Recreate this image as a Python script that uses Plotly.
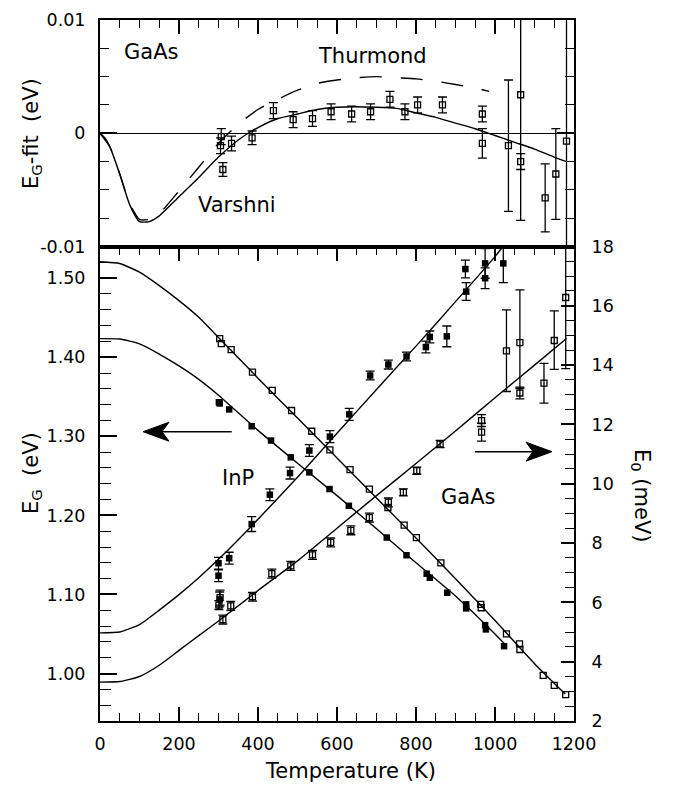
import plotly.graph_objects as go

FONT = "DejaVu Sans"

# ---------------- Top panel: E_G - fit (eV) for GaAs ----------------
T_varshni = [0, 12, 25, 50, 75, 100, 125, 150, 200, 250, 300, 350, 375, 400, 450, 500, 550, 600, 700, 750, 800, 850, 900, 950, 1000, 1050, 1100, 1150, 1181]
dE_varshni = [0.0, -0.0004, -0.0012, -0.0036, -0.0063, -0.0078, -0.0078, -0.0073, -0.0056, -0.0039, -0.0021, -0.0006, 0.0, 0.0005, 0.0013, 0.0017, 0.0021, 0.0023, 0.0023, 0.0022, 0.0018, 0.0014, 0.0009, 0.0004, -0.0002, -0.0008, -0.0014, -0.0021, -0.0025]

T_thurmond = [0, 25, 50, 75, 100, 125, 150, 200, 250, 300, 350, 400, 450, 500, 550, 600, 650, 700, 750, 800, 850, 900, 950, 985]
dE_thurmond = [0.0, -0.0012, -0.0036, -0.0062, -0.0076, -0.0076, -0.0071, -0.0051, -0.0030, -0.0009, 0.0008, 0.0021, 0.0030, 0.0038, 0.0044, 0.0047, 0.0049, 0.0050, 0.0049, 0.0048, 0.0046, 0.0043, 0.0040, 0.0037]

T_resid = [307, 305, 311, 333, 385, 439, 489, 538, 585, 637, 685, 734, 772, 804, 867, 968, 968, 1034, 1065, 1065, 1127, 1154, 1181]
dE_resid = [-0.0003, -0.0011, -0.0032, -0.0009, -0.0004, 0.0020, 0.0012, 0.0013, 0.0019, 0.0017, 0.0019, 0.0030, 0.0019, 0.0025, 0.0025, 0.0017, -0.0009, -0.0011, 0.0034, -0.0025, -0.0057, -0.0036, -0.0007]
err_resid = [0.0007, 0.0007, 0.0006, 0.00065, 0.0006, 0.0007, 0.0007, 0.0007, 0.0007, 0.0007, 0.0007, 0.0007, 0.0007, 0.0007, 0.0007, 0.0007, 0.0013, 0.0058, 0.0111, 0.0007, 0.0030, 0.0040, 0.0120]

# ---------------- Bottom panel: E_G (eV) ----------------
T_gaas_eg_fit = [0, 50, 100, 150, 200, 250, 300, 400, 500, 600, 700, 800, 900, 1000, 1100, 1178]
E_gaas_eg_fit = [1.5207, 1.5185, 1.5075, 1.4905, 1.4715, 1.4505, 1.4250, 1.3735, 1.3230, 1.2725, 1.2220, 1.1715, 1.1200, 1.0670, 1.0125, 0.9740]

T_inp_eg_fit = [0, 50, 100, 150, 200, 250, 300, 400, 500, 600, 700, 800, 900, 1000, 1025]
E_inp_eg_fit = [1.4235, 1.4230, 1.4168, 1.4040, 1.3890, 1.3720, 1.3520, 1.3075, 1.2660, 1.2250, 1.1830, 1.1400, 1.0980, 1.0500, 1.0370]

T_gaas_eg = [303, 307, 332, 386, 436, 485, 536, 582, 633, 682, 729, 770, 801, 863, 964, 965, 1029, 1062, 1063, 1122, 1150, 1179]
E_gaas_eg = [1.4235, 1.4172, 1.4096, 1.3812, 1.3580, 1.3326, 1.3064, 1.2828, 1.2578, 1.2333, 1.2100, 1.1877, 1.1720, 1.1400, 1.0875, 1.0832, 1.0502, 1.0376, 1.0304, 0.9978, 0.9850, 0.9734]

T_inp_eg = [301, 303, 327, 384, 433, 483, 530, 581, 630, 726, 776, 827, 835, 879, 927, 927, 975, 977, 1023]
E_inp_eg = [1.3430, 1.3415, 1.3340, 1.3127, 1.2946, 1.2734, 1.2544, 1.2333, 1.2121, 1.1720, 1.1496, 1.1263, 1.1212, 1.1022, 1.0875, 1.0824, 1.0612, 1.0558, 1.0346]

# ---------------- Bottom panel: E_0 (meV), right axis ----------------
T_inp_e0_fit = [0, 50, 100, 150, 200, 250, 300, 400, 500, 600, 700, 800, 900, 1000, 1020]
E0_inp_fit = [4.97, 5.00, 5.25, 5.74, 6.26, 6.83, 7.45, 8.80, 10.22, 11.70, 13.18, 14.64, 16.14, 17.66, 18.0]

T_gaas_e0_fit = [0, 50, 100, 150, 200, 250, 300, 400, 500, 600, 700, 800, 900, 1000, 1100, 1181]
E0_gaas_fit = [3.31, 3.33, 3.50, 3.88, 4.38, 4.88, 5.37, 6.40, 7.40, 8.50, 9.60, 10.68, 11.78, 12.90, 14.00, 14.90]

T_inp_e0 = [300, 300, 303, 327, 384, 430, 481, 530, 582, 631, 684, 730, 776, 825, 835, 878, 927, 925, 975, 975, 1021]
E0_inp = [7.32, 6.90, 6.10, 7.49, 8.64, 9.63, 10.36, 11.12, 11.59, 12.34, 13.65, 14.02, 14.29, 14.61, 14.95, 14.97, 16.48, 17.24, 17.43, 16.93, 17.43]
err_inp_e0 = [0.2, 0.2, 0.25, 0.2, 0.25, 0.2, 0.2, 0.2, 0.2, 0.2, 0.15, 0.15, 0.15, 0.2, 0.2, 0.35, 0.3, 0.3, 0.5, 0.35, 0.65]

T_gaas_e0 = [301, 304, 311, 331, 386, 435, 483, 538, 584, 635, 682, 730, 768, 802, 861, 966, 966, 1029, 1063, 1063, 1124, 1150, 1179]
E0_gaas = [5.91, 6.16, 5.42, 5.88, 6.19, 6.97, 7.23, 7.60, 8.02, 8.43, 8.86, 9.37, 9.71, 10.44, 11.34, 12.13, 11.74, 14.48, 14.76, 13.06, 13.39, 14.83, 16.28]
errp_gaas_e0 = [0.15, 0.25, 0.15, 0.15, 0.15, 0.15, 0.15, 0.15, 0.15, 0.15, 0.15, 0.15, 0.12, 0.12, 0.12, 0.2, 0.3, 1.38, 1.78, 0.2, 0.67, 1.0, 2.4]
errm_gaas_e0 = [0.15, 0.25, 0.15, 0.15, 0.15, 0.15, 0.15, 0.15, 0.15, 0.15, 0.15, 0.15, 0.12, 0.12, 0.12, 0.2, 0.3, 1.37, 1.54, 0.2, 0.67, 0.97, 2.4]

# ---------------- layout geometry (page pixels; page body has an 8px margin) ----------------
OFF = 8
W, H = 676 - 2 * OFF, 791 - 2 * OFF
ML, MT = 100 - OFF, 20 - OFF
MR = W - (574 - OFF)
MB = H - (721 - OFF)
PW, PH = W - ML - MR, H - MT - MB
SPLIT = (721 - 246.5) / PH


def px(xp):
    return (xp - OFF - ML) / PW


def py(yp):
    return (H - MB - (yp - OFF)) / PH


BLACK = "black"
fig = go.Figure()

err_style = dict(type="data", color=BLACK, thickness=1.3, width=4.5)

# top panel
fig.add_trace(go.Scatter(x=T_varshni, y=dE_varshni, xaxis="x2", yaxis="y2", mode="lines",
                         line=dict(color=BLACK, width=1.4, shape="spline", smoothing=0.6), showlegend=False))
fig.add_trace(go.Scatter(x=T_thurmond, y=dE_thurmond, xaxis="x2", yaxis="y2", mode="lines",
                         line=dict(color=BLACK, width=1.4, dash="22px,19px", shape="spline", smoothing=0.6),
                         showlegend=False))
fig.add_trace(go.Scatter(x=T_resid, y=dE_resid, xaxis="x2", yaxis="y2", mode="markers",
                         marker=dict(symbol="square-open", size=6, color=BLACK, line=dict(width=1.3, color=BLACK)),
                         error_y=dict(array=err_resid, **err_style), showlegend=False))

# bottom panel: E_G
fig.add_trace(go.Scatter(x=T_gaas_eg_fit, y=E_gaas_eg_fit, xaxis="x", yaxis="y", mode="lines",
                         line=dict(color=BLACK, width=1.4, shape="spline", smoothing=0.5), showlegend=False))
fig.add_trace(go.Scatter(x=T_inp_eg_fit, y=E_inp_eg_fit, xaxis="x", yaxis="y", mode="lines",
                         line=dict(color=BLACK, width=1.4, shape="spline", smoothing=0.5), showlegend=False))
fig.add_trace(go.Scatter(x=T_gaas_eg, y=E_gaas_eg, xaxis="x", yaxis="y", mode="markers",
                         marker=dict(symbol="square-open", size=6, color=BLACK, line=dict(width=1.3, color=BLACK)),
                         showlegend=False))
fig.add_trace(go.Scatter(x=T_inp_eg, y=E_inp_eg, xaxis="x", yaxis="y", mode="markers",
                         marker=dict(symbol="square", size=6.5, color=BLACK), showlegend=False))

# bottom panel: E_0 (right axis)
fig.add_trace(go.Scatter(x=T_inp_e0_fit, y=E0_inp_fit, xaxis="x", yaxis="y3", mode="lines",
                         line=dict(color=BLACK, width=1.4, shape="spline", smoothing=0.5), showlegend=False))
fig.add_trace(go.Scatter(x=T_gaas_e0_fit, y=E0_gaas_fit, xaxis="x", yaxis="y3", mode="lines",
                         line=dict(color=BLACK, width=1.4, shape="spline", smoothing=0.5), showlegend=False))
fig.add_trace(go.Scatter(x=T_inp_e0, y=E0_inp, xaxis="x", yaxis="y3", mode="markers",
                         marker=dict(symbol="square", size=6.5, color=BLACK),
                         error_y=dict(array=err_inp_e0, **err_style), showlegend=False))
fig.add_trace(go.Scatter(x=T_gaas_e0, y=E0_gaas, xaxis="x", yaxis="y3", mode="markers",
                         marker=dict(symbol="square-open", size=6, color=BLACK, line=dict(width=1.3, color=BLACK)),
                         error_y=dict(array=errp_gaas_e0, arrayminus=errm_gaas_e0, symmetric=False, **err_style),
                         showlegend=False))

tickfont = dict(family=FONT, size=17.5, color=BLACK)
axline = dict(showline=True, linecolor=BLACK, linewidth=2, showgrid=False, zeroline=False,
              ticks="inside", tickcolor=BLACK, automargin=False)

fig.update_layout(
    width=W, height=H,
    margin=dict(l=ML, r=MR, t=MT, b=MB, pad=0, autoexpand=False),
    paper_bgcolor="white", plot_bgcolor="white",
    font=dict(family=FONT, size=17.5, color=BLACK),
    xaxis=dict(domain=[0, 1], range=[0, 1200], anchor="y", tickmode="linear", tick0=0, dtick=200,
               ticklen=14, tickwidth=1.5, mirror="ticks", tickfont=tickfont, ticklabelstandoff=6,
               minor=dict(tickmode="linear", tick0=0, dtick=50, ticklen=8, tickwidth=1.2, ticks="inside",
                          tickcolor=BLACK),
               **axline),
    xaxis2=dict(domain=[0, 1], range=[0, 1200], anchor="y2", side="top", tickmode="linear", tick0=0, dtick=200,
                ticklen=14, tickwidth=1.5, mirror=True, showticklabels=False,
                minor=dict(tickmode="linear", tick0=0, dtick=50, ticklen=8, tickwidth=1.2, ticks="inside",
                           tickcolor=BLACK),
                **axline),
    yaxis=dict(domain=[0, SPLIT], range=[0.94, 1.54], anchor="x", tickmode="linear", tick0=1.0, dtick=0.1,
               tickformat=".2f", ticklen=17, tickwidth=1.5, tickfont=tickfont, ticklabelstandoff=9,
               minor=dict(tickmode="linear", tick0=1.0, dtick=0.02, ticklen=11, tickwidth=1.2, ticks="inside",
                          tickcolor=BLACK),
               **axline),
    yaxis2=dict(domain=[SPLIT, 1], range=[-0.01, 0.01], anchor="x2", tickmode="array",
                tickvals=[-0.01, 0, 0.01], ticktext=["-0.01", "0", "0.01"], mirror="ticks",
                ticklen=17, tickwidth=1.5, tickfont=tickfont, ticklabelstandoff=9,
                minor=dict(tickmode="linear", tick0=-0.01, dtick=0.0025, ticklen=9, tickwidth=1.2,
                           ticks="inside", tickcolor=BLACK),
                showline=True, linecolor=BLACK, linewidth=2, showgrid=False, ticks="inside", tickcolor=BLACK,
                automargin=False, zeroline=True, zerolinecolor=BLACK, zerolinewidth=1.2),
    yaxis3=dict(overlaying="y", side="right", anchor="x", range=[2, 18], tickmode="linear", tick0=2, dtick=2,
                ticklen=13, tickwidth=1.5, tickfont=tickfont, ticklabelstandoff=12,
                minor=dict(tickmode="linear", tick0=2, dtick=0.5, ticklen=9, tickwidth=1.2, ticks="inside",
                           tickcolor=BLACK),
                **axline),
)

tfont = dict(family=FONT, size=21, color=BLACK)
annots = [
    dict(text="GaAs", x=px(151), y=py(52.5)),
    dict(text="Thurmond", x=px(372), y=py(56.5)),
    dict(text="Varshni", x=px(237), y=py(205)),
    dict(text="InP", x=px(237.5), y=py(478)),
    dict(text="GaAs", x=px(468), y=py(497)),
    dict(text="Temperature (K)", x=px(350.5), y=py(771)),
    dict(text="E<sub>G</sub>-fit\u00a0\u00a0(eV)", x=px(32), y=py(134), textangle=-90),
    dict(text="E<sub>G</sub>\u00a0\u00a0(eV)", x=px(32), y=py(473), textangle=-90),
    dict(text="E<sub>0</sub>\u00a0(meV)", x=px(641), y=py(495), textangle=90),
]
for a in annots:
    fig.add_annotation(xref="paper", yref="paper", showarrow=False, xanchor="center", yanchor="middle",
                       font=tfont, **a)


# arrows drawn as shapes (shaft + notched head)
def arrow(x_tail, x_tip, y, head_len=26, half_h=9.5, notch=7):
    d = 1 if x_tip > x_tail else -1
    base = x_tip - d * head_len
    fig.add_shape(type="line", xref="paper", yref="paper", x0=px(x_tail), y0=py(y), x1=px(base + d * notch),
                  y1=py(y), line=dict(color=BLACK, width=1.4))
    path = (f"M {px(x_tip)},{py(y)} L {px(base)},{py(y - half_h)} L {px(base + d * notch)},{py(y)} "
            f"L {px(base)},{py(y + half_h)} Z")
    fig.add_shape(type="path", xref="paper", yref="paper", path=path, fillcolor=BLACK,
                  line=dict(color=BLACK, width=1))


arrow(231.7, 143, 431.7)
arrow(475, 552, 451.7)

fig.write_html("out.html")
